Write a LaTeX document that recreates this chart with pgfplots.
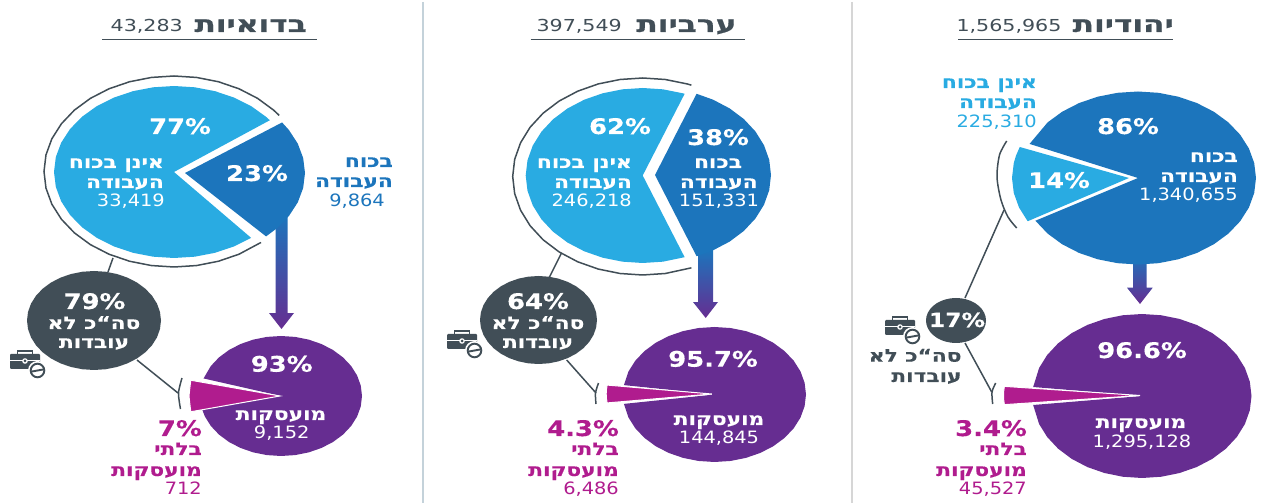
\documentclass[border=0pt]{standalone}
\usepackage{fontspec}
\usepackage{pgfplots}
\usepackage{pgfplotstable}
\pgfplotsset{compat=1.18}
\TeXXeTstate=1
\newfontfamily\hbb[Script=Hebrew,FakeStretch=1.24,FakeBold=0.3]{DejaVu Sans Bold}
\newfontfamily\ttlb[Script=Hebrew,FakeStretch=1.36,FakeBold=0.8]{DejaVu Sans Bold}
\newfontfamily\numb[FakeStretch=1.2,FakeBold=0.4]{DejaVu Sans Bold}
\newfontfamily\numr[FakeStretch=1.14]{DejaVu Sans}
\newfontfamily\numt[FakeStretch=1.25]{DejaVu Sans}
\definecolor{lblue}{HTML}{29ABE2}
\definecolor{dblue}{HTML}{1C75BC}
\definecolor{purp}{HTML}{662D91}
\definecolor{magn}{HTML}{B01C8E}
\definecolor{slate}{HTML}{414E57}
\definecolor{rule1}{HTML}{C4D2DA}
\definecolor{rule2}{HTML}{D6D6D6}

% outline of a whole ellipse, angle and radius
\pgfplotstableread{
a r
0 1
10 1
20 1
30 1
40 1
50 1
60 1
70 1
80 1
90 1
100 1
110 1
120 1
130 1
140 1
150 1
160 1
170 1
180 1
190 1
200 1
210 1
220 1
230 1
240 1
250 1
260 1
270 1
280 1
290 1
300 1
310 1
320 1
330 1
340 1
350 1
360 1
}\rimtable

\pgfplotsset{
  sh/.style n args={4}{hide axis,clip=false,anchor=center,
    at={(#1pt,503pt-#2pt)},x=#3pt,y=#4pt,
    xmin=-1,xmax=1,ymin=-1,ymax=1},
  pieplot/.style={data cs=polar,fill=#1,draw=none},
  tip/.style={data cs=polar,fill=magn,draw=white,line width=1pt,line join=miter},
  ring/.style={data cs=polar,draw=slate,line width=1.5pt,fill=none,no markers},
  lin/.style={draw=slate,line width=1.5pt,no markers},
  arr/.style={draw=none,top color=dblue,bottom color=purp,no markers},
}
% one ellipse-based shape: centre x, y, radii x, y, plot style, points
\newcommand{\Sh}[6]{%
  \begin{axis}[sh={#1}{#2}{#3}{#4}]
  \addplot[#5] coordinates {#6} --cycle;
  \end{axis}}
\newcommand{\Arc}[5]{%
  \begin{axis}[sh={#1}{#2}{#3}{#4}]
  \addplot[ring] coordinates {#5};
  \end{axis}}
\newcommand{\Ball}[4]{%
  \begin{axis}[sh={#1}{#2}{#3}{#4}]
  \addplot[pieplot=slate] table[x=a,y=r] {\rimtable};
  \end{axis}}
% text at pixel position (baseline)
\newcommand{\T}[6]{\node[anchor=#3,inner sep=0pt,text=#5] at (#1pt,503pt-#2pt) {#4#6};}
\newcommand{\HE}{\hbb\fontsize{17.5}{18}\selectfont}
\newcommand{\PC}{\numb\fontsize{21.5}{22}\selectfont}
\newcommand{\PCs}{\numb\fontsize{19.5}{20}\selectfont}
\newcommand{\NR}{\numr\fontsize{17}{18}\selectfont}
\newcommand{\TTN}{\numt\fontsize{16.5}{18}\selectfont}
\newcommand{\TTH}{\ttlb\fontsize{23}{24}\selectfont}
% briefcase with a no-entry sign
\newcommand{\Icon}[2]{%
  \begin{scope}[shift={(#1pt,503pt-#2pt)},x=1pt,y=-1pt]
  \draw[slate,line width=1.6pt] (7.5,4)--(7.5,1)--(22.5,1)--(22.5,4);
  \fill[slate,rounded corners=1pt] (0,4) rectangle (30,19);
  \draw[white,line width=1pt] (0,11)--(30,11);
  \fill[white] (15,11) circle (2.8pt);
  \fill[slate] (15,11) circle (1.5pt);
  \fill[white] (27.5,20.5) circle (9.5pt);
  \draw[slate,line width=1.9pt] (27.5,20.5) circle (6.8pt);
  \draw[slate,line width=1.9pt] (22,21.5)--(33,19.5);
  \end{scope}}

\begin{document}
\begin{tikzpicture}[x=1pt,y=1pt]
\useasboundingbox (0,0) rectangle (1261pt,503pt);

\begin{axis}[hide axis,clip=false,at={(0,0)},anchor=south west,x=1pt,y=1pt,
  xmin=0,xmax=1261,ymin=0,ymax=503,y dir=reverse]
% panel dividers
\addplot[draw=rule1,line width=1.4pt,no markers] coordinates {(423,2)(423,503)};
\addplot[draw=rule2,line width=1.4pt,no markers] coordinates {(852,2)(852,503)};
% title rules
\addplot[draw=slate,line width=1pt,no markers] coordinates {(102,39.3)(316.7,39.3)};
\addplot[draw=slate,line width=1pt,no markers] coordinates {(530.7,39.3)(745,39.3)};
\addplot[draw=slate,line width=1pt,no markers] coordinates {(958,39.3)(1173,39.3)};
% arrows
\addplot[arr] coordinates {(275.5,215)(287.5,215)(287.5,313)(294,313)(281.5,329)(269,313)(275.5,313)} --cycle;
\addplot[arr] coordinates {(698,250)(713,250)(713,302)(718,302)(705.7,318)(693,302)(698,302)} --cycle;
\addplot[arr] coordinates {(1133,255)(1146.7,255)(1146.7,287.7)(1152.7,287.7)(1140,304)(1127,287.7)(1133,287.7)} --cycle;
% connectors panel 1
\addplot[lin] coordinates {(113,258)(108,272)};
\addplot[lin] coordinates {(137,360)(178,393)};
\addplot[lin,smooth] coordinates {(182,378)(178.5,393)(180.5,409)};
% connectors panel 2
\addplot[lin] coordinates {(561.5,253)(549,278)};
\addplot[lin] coordinates {(566.7,360)(596,393)};
\addplot[lin,smooth] coordinates {(598.5,383)(595.5,393)(596,404)};
% connectors panel 3
\addplot[lin,smooth] coordinates {(1006.7,141)(999.5,155)(997,177)(1001,200)(1008,217)(1016.7,228)};
\addplot[lin] coordinates {(1004,210)(965,298)};
\addplot[lin] coordinates {(965,343)(991.7,392)};
\addplot[lin,smooth] coordinates {(995.7,383)(992,392)(992.7,404)};
\end{axis}

% panel 1
\Sh{174}{172}{120}{86}{pieplot=lblue}{(0,0)(37,1)(40,1)(50,1)(60,1)(70,1)(80,1)(90,1)(100,1)(110,1)(120,1)(130,1)(140,1)(150,1)(160,1)(170,1)(180,1)(190,1)(200,1)(210,1)(220,1)(230,1)(240,1)(250,1)(260,1)(270,1)(280,1)(290,1)(300,1)(310,1)}
\Sh{185}{173}{120}{86}{pieplot=dblue}{(0,0)(-47.5,1)(-40,1)(-30,1)(-20,1)(-10,1)(0,1)(10,1)(20,1)(30,1)(36,1)}
\Arc{174}{171.5}{130}{95.5}{(36,1)(40,1)(50,1)(60,1)(70,1)(80,1)(90,1)(100,1)(110,1)(120,1)(130,1)(140,1)(150,1)(160,1)(170,1)(180,1)(190,1)(200,1)(210,1)(220,1)(230,1)(240,1)(250,1)(260,1)(270,1)(280,1)(290,1)(300,1)(312,1)}
\Ball{94}{320.5}{67}{49.5}
\Sh{281}{396}{81}{60}{pieplot=purp}{(0,0)(-168,1)(-160,1)(-150,1)(-140,1)(-130,1)(-120,1)(-110,1)(-100,1)(-90,1)(-80,1)(-70,1)(-60,1)(-50,1)(-40,1)(-30,1)(-20,1)(-10,1)(0,1)(10,1)(20,1)(30,1)(40,1)(50,1)(60,1)(70,1)(80,1)(90,1)(100,1)(110,1)(120,1)(130,1)(140,1)(150,1)(163,1)}
\Sh{280}{396}{91}{60}{tip}{(0,0)(165,1.015)(172,1)(180,1)(188,1)(195,1.015)}

% panel 2
\Sh{642.7}{175.5}{117}{87.5}{pieplot=lblue}{(0,0)(69,1)(70,1)(80,1)(90,1)(100,1)(110,1)(120,1)(130,1)(140,1)(150,1)(160,1)(170,1)(180,1)(190,1)(200,1)(210,1)(220,1)(230,1)(240,1)(250,1)(260,1)(270,1)(280,1)(291,1)}
\Sh{655}{175}{116}{87}{pieplot=dblue}{(0,0)(-69,1)(-60,1)(-50,1)(-40,1)(-30,1)(-20,1)(-10,1)(0,1)(10,1)(20,1)(30,1)(40,1)(50,1)(60,1)(69,1)}
\Arc{642.7}{176.5}{130}{98.5}{(68,1)(70,1)(80,1)(90,1)(100,1)(110,1)(120,1)(130,1)(140,1)(150,1)(160,1)(170,1)(180,1)(190,1)(200,1)(210,1)(220,1)(230,1)(240,1)(250,1)(260,1)(270,1)(280,1)(292,1)}
\Ball{538.5}{320}{58.5}{44}
\Sh{714.5}{394.5}{91.5}{67.5}{pieplot=purp}{(0,0)(-172,1)(-160,1)(-150,1)(-140,1)(-130,1)(-120,1)(-110,1)(-100,1)(-90,1)(-80,1)(-70,1)(-60,1)(-50,1)(-40,1)(-30,1)(-20,1)(-10,1)(0,1)(10,1)(20,1)(30,1)(40,1)(50,1)(60,1)(70,1)(80,1)(90,1)(100,1)(110,1)(120,1)(130,1)(140,1)(150,1)(160,1)(172,1)}
\Sh{711.7}{394}{105.5}{67.5}{tip}{(0,0)(172.4,1)(176,1)(180,1)(184,1)(187.6,1)}

% panel 3
\Sh{1138}{178}{118}{86.5}{pieplot=dblue}{(0,0)(-150.4,1)(-140,1)(-130,1)(-120,1)(-110,1)(-100,1)(-90,1)(-80,1)(-70,1)(-60,1)(-50,1)(-40,1)(-30,1)(-20,1)(-10,1)(0,1)(10,1)(20,1)(30,1)(40,1)(50,1)(60,1)(70,1)(80,1)(90,1)(100,1)(110,1)(120,1)(130,1)(140,1)(156.8,1)}
\Sh{1129}{178}{117}{86.5}{pieplot=lblue}{(0,0)(159,1)(165,1)(170,1)(180,1)(190,1)(200,1)(210,1)}
\Ball{956}{320.5}{30}{22.5}
\Sh{1142}{396}{109.5}{82}{pieplot=purp}{(0,0)(-173.7,1)(-160,1)(-150,1)(-140,1)(-130,1)(-120,1)(-110,1)(-100,1)(-90,1)(-80,1)(-70,1)(-60,1)(-50,1)(-40,1)(-30,1)(-20,1)(-10,1)(0,1)(10,1)(20,1)(30,1)(40,1)(50,1)(60,1)(70,1)(80,1)(90,1)(100,1)(110,1)(120,1)(130,1)(140,1)(150,1)(160,1)(173.7,1)}
\Sh{1140}{395.5}{136.5}{82}{tip}{(0,0)(173.6,1)(177,1)(180,1)(183,1)(186.4,1)}

% icons
\Icon{10}{350}
\Icon{447}{330}
\Icon{885}{316}

% titles
\T{307}{32}{base east}{\TTH}{slate}{\beginR בדואיות\endR}
\T{183}{32}{base east}{\TTN}{slate}{43,283}
\T{736.7}{32}{base east}{\TTH}{slate}{\beginR ערביות\endR}
\T{622}{32}{base east}{\TTN}{slate}{397,549}
\T{1174}{32}{base east}{\TTH}{slate}{\beginR יהודיות\endR}
\T{1061.7}{32}{base east}{\TTN}{slate}{1,565,965}

% panel 1 labels
\T{180}{134}{base}{\PC}{white}{77\%}
\T{164}{168}{base east}{\HE}{white}{\beginR אינן בכוח\endR}
\T{164}{188}{base east}{\HE}{white}{\beginR העבודה\endR}
\T{165}{207}{base east}{\NR}{white}{33,419}
\T{257}{181}{base}{\PC}{white}{23\%}
\T{393}{167}{base east}{\HE}{dblue}{\beginR בכוח\endR}
\T{393}{187}{base east}{\HE}{dblue}{\beginR העבודה\endR}
\T{385}{207}{base east}{\NR}{dblue}{9,864}
\T{94.5}{309}{base}{\PC}{white}{79\%}
\T{94}{329}{base}{\HE}{white}{\beginR סה“כ לא\endR}
\T{94}{348}{base}{\HE}{white}{\beginR עובדות\endR}
\T{281.7}{371.7}{base}{\PC}{white}{93\%}
\T{281}{420}{base}{\HE}{white}{\beginR מועסקות\endR}
\T{281.7}{439}{base}{\NR}{white}{9,152}
\T{202}{436}{base east}{\PC}{magn}{7\%}
\T{202}{455}{base east}{\HE}{magn}{\beginR בלתי\endR}
\T{202}{476}{base east}{\HE}{magn}{\beginR מועסקות\endR}
\T{202}{495}{base east}{\NR}{magn}{712}

% panel 2 labels
\T{620}{134}{base}{\PC}{white}{62\%}
\T{632}{168}{base east}{\HE}{white}{\beginR אינן בכוח\endR}
\T{632}{188}{base east}{\HE}{white}{\beginR העבודה\endR}
\T{632}{207}{base east}{\NR}{white}{246,218}
\T{718}{145}{base}{\PC}{white}{38\%}
\T{718}{168}{base}{\HE}{white}{\beginR בכוח\endR}
\T{718.8}{188}{base}{\HE}{white}{\beginR העבודה\endR}
\T{719}{207}{base}{\NR}{white}{151,331}
\T{538}{309}{base}{\PC}{white}{64\%}
\T{538}{329}{base}{\HE}{white}{\beginR סה“כ לא\endR}
\T{538}{348}{base}{\HE}{white}{\beginR עובדות\endR}
\T{713}{366.7}{base}{\PC}{white}{95.7\%}
\T{719}{425}{base}{\HE}{white}{\beginR מועסקות\endR}
\T{719}{444}{base}{\NR}{white}{144,845}
\T{619}{436}{base east}{\PC}{magn}{4.3\%}
\T{619}{455}{base east}{\HE}{magn}{\beginR בלתי\endR}
\T{619}{476}{base east}{\HE}{magn}{\beginR מועסקות\endR}
\T{619}{495}{base east}{\NR}{magn}{6,486}

% panel 3 labels
\T{1037}{88}{base east}{\HE}{lblue}{\beginR אינן בכוח\endR}
\T{1037}{108}{base east}{\HE}{lblue}{\beginR העבודה\endR}
\T{1037}{128}{base east}{\NR}{lblue}{225,310}
\T{1128}{134}{base}{\PC}{white}{86\%}
\T{1059}{188}{base}{\PC}{white}{14\%}
\T{1238}{162}{base east}{\HE}{white}{\beginR בכוח\endR}
\T{1238}{182}{base east}{\HE}{white}{\beginR העבודה\endR}
\T{1238}{201}{base east}{\NR}{white}{1,340,655}
\T{957}{327}{base}{\PCs}{white}{17\%}
\T{961.7}{361.7}{base east}{\HE}{slate}{\beginR סה“כ לא\endR}
\T{961.7}{382}{base east}{\HE}{slate}{\beginR עובדות\endR}
\T{1142}{358}{base}{\PC}{white}{96.6\%}
\T{1141}{428}{base}{\HE}{white}{\beginR מועסקות\endR}
\T{1142}{447.7}{base}{\NR}{white}{1,295,128}
\T{1027}{436}{base east}{\PC}{magn}{3.4\%}
\T{1027}{455}{base east}{\HE}{magn}{\beginR בלתי\endR}
\T{1027}{476}{base east}{\HE}{magn}{\beginR מועסקות\endR}
\T{1027}{495}{base east}{\NR}{magn}{45,527}
\end{tikzpicture}
\end{document}
